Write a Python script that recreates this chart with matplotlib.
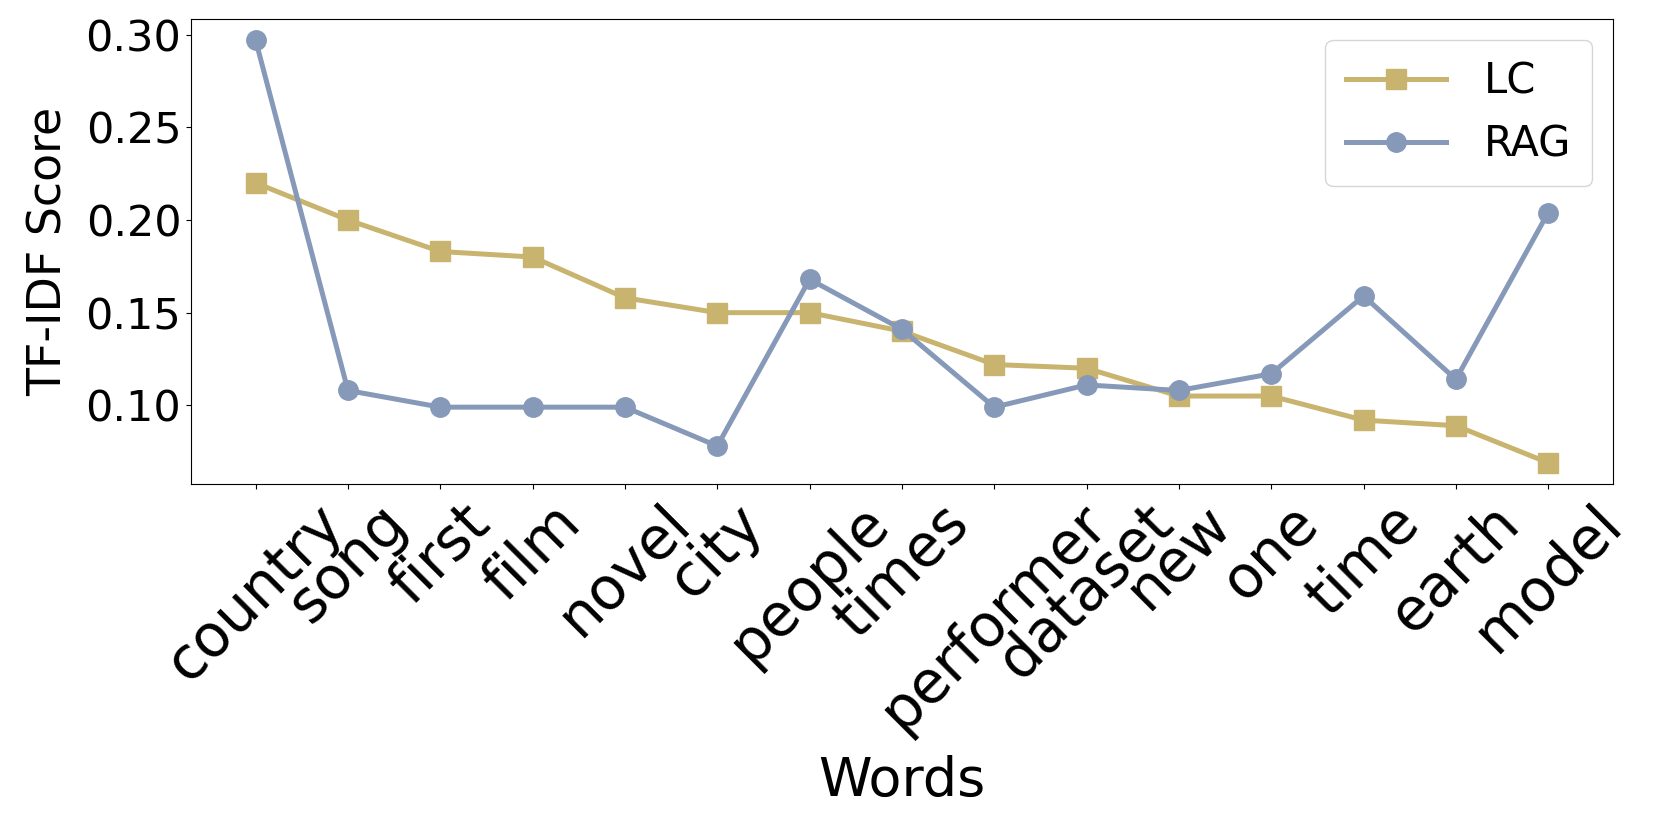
import matplotlib
matplotlib.use("Agg")
import matplotlib.pyplot as plt
import numpy as np

words = ["country", "song", "first", "film", "novel", "city", "people", "times",
         "performer", "dataset", "new", "one", "time", "earth", "model"]
lc_scores = [0.220, 0.200, 0.183, 0.180, 0.158, 0.150, 0.150, 0.140,
             0.122, 0.120, 0.105, 0.105, 0.092, 0.089, 0.069]
rag_scores = [0.297, 0.108, 0.099, 0.099, 0.099, 0.078, 0.168, 0.141,
              0.099, 0.111, 0.108, 0.117, 0.159, 0.114, 0.204]

fig, ax = plt.subplots(figsize=(16.61, 8.30), dpi=100)
fig.subplots_adjust(left=0.115, right=0.971, bottom=0.417, top=0.977)

x = np.arange(len(words))
ax.plot(x, lc_scores, marker='s', color='#c8b46e', linewidth=3.6, markersize=14, label='LC')
ax.plot(x, rag_scores, marker='o', color='#8799b8', linewidth=3.6, markersize=14, label='RAG')

ax.set_xticks(x)
ax.set_xticklabels(words, rotation=45, fontsize=42)
ax.tick_params(axis='y', labelsize=31)
ax.set_yticks([0.10, 0.15, 0.20, 0.25, 0.30])
ax.set_xlabel('Words', fontsize=39, labelpad=10)
ax.set_ylabel('TF-IDF Score', fontsize=33, labelpad=10)
ax.legend(fontsize=30, loc='upper right', handlelength=2.4, handletextpad=0.9,
          borderpad=0.5)

fig.savefig('out.png', dpi=100)
